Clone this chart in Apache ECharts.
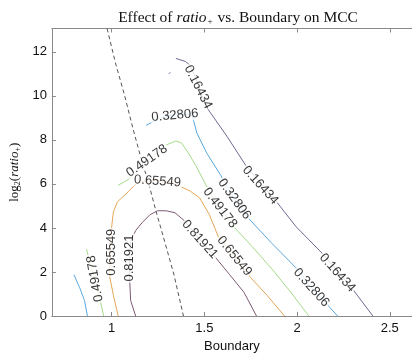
<!DOCTYPE html>
<html><head><meta charset="utf-8">
<script src="https://cdn.jsdelivr.net/npm/echarts@6/dist/echarts.min.js"></script>
<style>html,body{margin:0;padding:0;background:#fff}#c{width:412px;height:358px}</style>
</head><body><div id="c"></div>
<script>
// Axis tick values
const xTicks = [1, 1.5, 2, 2.5];
const yTicks = [0, 2, 4, 6, 8, 10, 12];
const levels = ['0.16434', '0.32806', '0.49178', '0.65549', '0.81921'];

// Contour lines [x, y]
const c016 = [[1.346,11.70],[1.398,11.56],[1.424,11.38],[1.455,10.76],[1.486,10.04],[1.517,9.42],[1.621,8.17],[1.724,6.83],[1.807,5.98],[1.890,5.18],[1.994,4.06],[2.134,2.86],[2.222,2.01],[2.305,1.16],[2.409,0]];
const c016b = [[1.308,11.00],[1.316,11.07]];
const c033 = [[1.185,8.66],[1.268,9.02],[1.372,9.20],[1.434,9.11],[1.460,8.30],[1.512,7.41],[1.589,6.38],[1.662,5.31],[1.740,4.42],[1.864,3.30],[1.994,2.19],[2.077,1.29],[2.175,0.40],[2.219,0]];
const c033b = [[0.796,1.875],[0.827,1.29],[0.853,0.71],[0.869,0]];
const c049 = [[1.035,5.94],[1.092,6.21],[1.190,7.01],[1.294,7.77],[1.346,7.95],[1.377,7.86],[1.413,7.41],[1.454,6.83],[1.501,6.07],[1.543,5.40],[1.584,4.91],[1.662,4.02],[1.760,3.13],[1.864,2.14],[1.967,1.07],[2.063,0]];
const c049b = [[0.864,3.04],[0.884,2.37],[0.910,1.70],[0.931,0.94],[0.957,0]];
const c066 = [[1.035,0],[1.009,0.94],[0.988,1.83],[0.993,2.90],[0.998,3.93],[1.009,4.73],[1.030,5.18],[1.092,5.67],[1.138,6.07],[1.247,6.16],[1.346,5.98],[1.424,5.67],[1.475,5.36],[1.527,4.60],[1.574,3.62],[1.662,2.72],[1.750,1.74],[1.838,0.94],[1.932,0]];
const c082 = [[1.129,0],[1.102,0.71],[1.097,1.61],[1.097,2.63],[1.102,3.39],[1.129,3.88],[1.164,4.24],[1.206,4.60],[1.247,4.78],[1.294,4.78],[1.341,4.69],[1.392,4.33],[1.475,3.48],[1.558,2.68],[1.636,1.88],[1.714,1.07],[1.781,0]];
// Dashed boundary line
const dashLine = [[0.975,13.06],[1.02,11.5],[1.07,10.0],[1.115,8.5],[1.159,7.14],[1.200,6.0],[1.237,4.82],[1.285,3.4],[1.335,1.9],[1.387,0]];

// Inline contour labels: text, x, y, rotation
const labText = ['0.16434','0.16434','0.16434','0.32806','0.32806','0.32806','0.49178','0.49178','0.49178','0.65549','0.65549','0.65549','0.81921','0.81921'];
const labX = [1.466,1.802,2.217,1.341,1.662,2.077,1.190,1.584,0.910,0.998,1.247,1.662,1.097,1.475];
const labY = [10.40,5.94,1.96,9.11,5.31,1.29,7.05,4.91,1.70,2.90,6.12,2.72,2.63,3.48];
const labRot = [-63,-48,-48,5,-54,-48,35,-52,100,90,-4,-51,90,-48];

const colors = {'0.16434':'#6e6a94','0.32806':'#58a8dc','0.49178':'#a4da8a','0.65549':'#e4a658','0.81921':'#7c5a74'};

function lineSeries(data, color, dashed) {
  return {type:'line', data:data, showSymbol:false, symbol:'none', silent:true, z:2,
    lineStyle:{color:color, width:1, type: dashed ? [4,3] : 'solid'}};
}

const labelData = labText.map((t,i)=>({value:[labX[i],labY[i]], label:{formatter:t, rotate:labRot[i]}}));

const chart = echarts.init(document.getElementById('c'), null, {renderer:'canvas'});
const axisCol = '#8a8a8a';
chart.setOption({
  animation:false,
  backgroundColor:'#fff',
  title:{
    text:'{a|Effect of }{i|ratio}{s|+}{a| vs. Boundary on MCC}',
    left:233, top:4, textAlign:'center',
    textStyle:{fontWeight:'normal', rich:{
      a:{fontFamily:'Liberation Serif', fontSize:15.5, fontWeight:'normal', color:'#111'},
      i:{fontFamily:'Liberation Serif', fontSize:15.5, fontStyle:'italic', fontWeight:'normal', color:'#111'},
      s:{fontFamily:'Liberation Serif', fontSize:9, fontWeight:'normal', color:'#111', padding:[8,1,0,1]}
    }}
  },
  grid:{left:46, top:28.5, right:-8.8, bottom:37, containLabel:false},
  xAxis:[{
    type:'value', min:0.677, max:2.62, position:'bottom',
    name:'Boundary', nameLocation:'middle', nameGap:24,
    nameTextStyle:{fontFamily:'Liberation Sans', fontSize:13, color:'#111'},
    axisLine:{show:true, lineStyle:{color:axisCol, width:1}},
    axisTick:{show:true, inside:true, length:4, customValues:xTicks, lineStyle:{color:axisCol}},
    axisLabel:{customValues:xTicks, fontFamily:'Liberation Sans', fontSize:13, color:'#111', margin:6, formatter:v=>String(v)},
    splitLine:{show:false}
  },{
    type:'value', min:0.677, max:2.62, position:'top',
    axisLine:{show:true, lineStyle:{color:axisCol, width:1}},
    axisTick:{show:true, inside:true, length:4, customValues:xTicks, lineStyle:{color:axisCol}},
    axisLabel:{show:false}, splitLine:{show:false}
  }],
  yAxis:[{
    type:'value', min:0, max:13.06, position:'left',
    name:'{a|log}{s|2}{a|(}{i|ratio}{s|+}{a|)}', nameLocation:'middle', nameGap:26, nameRotate:90,
    nameTextStyle:{rich:{
      a:{fontFamily:'Liberation Serif', fontSize:13, color:'#111'},
      i:{fontFamily:'Liberation Serif', fontSize:13, fontStyle:'italic', color:'#111'},
      s:{fontFamily:'Liberation Serif', fontSize:8, color:'#111', padding:[6,0,0,0]}
    }},
    axisLine:{show:true, lineStyle:{color:axisCol, width:1}},
    axisTick:{show:true, inside:true, length:4, customValues:yTicks, lineStyle:{color:axisCol}},
    axisLabel:{customValues:yTicks, fontFamily:'Liberation Sans', fontSize:13, color:'#111', margin:5},
    splitLine:{show:false}
  }],
  series:[
    lineSeries(dashLine, '#555', true),
    lineSeries(c016, colors['0.16434']),
    lineSeries(c016b, colors['0.16434']),
    lineSeries(c033, colors['0.32806']),
    lineSeries(c033b, colors['0.32806']),
    lineSeries(c049, colors['0.49178']),
    lineSeries(c049b, colors['0.49178']),
    lineSeries(c066, colors['0.65549']),
    lineSeries(c082, colors['0.81921']),
    {type:'scatter', data:labelData, symbolSize:0, silent:true, z:5,
     label:{show:true, position:'inside', fontFamily:'Liberation Sans', fontSize:13, color:'#000',
            backgroundColor:'#fff', padding:[0,1]}}
  ]
});
</script></body></html>
